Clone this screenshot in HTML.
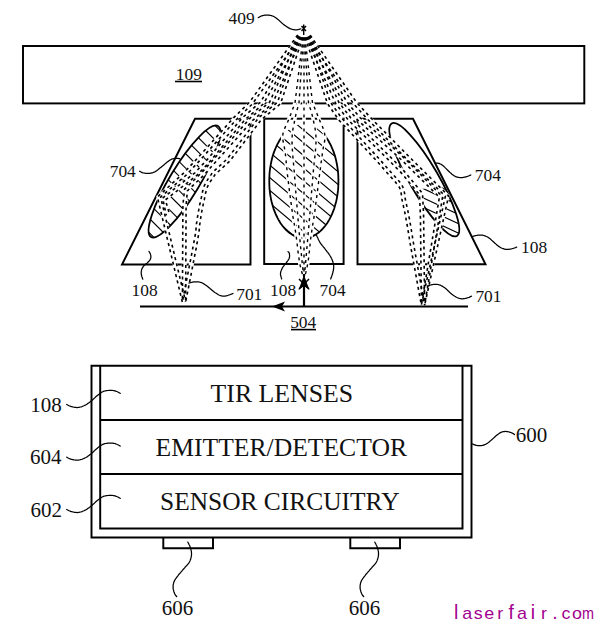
<!DOCTYPE html>
<html><head><meta charset="utf-8"><style>
html,body{margin:0;padding:0;background:#fff;}
body{width:600px;height:644px;overflow:hidden;}
svg{display:block;}
.ln{fill:none;stroke:#000;stroke-width:1.95;stroke-linejoin:miter;}
.el{fill:none;stroke:#000;stroke-width:1.8;}
.ht{fill:none;stroke:#000;stroke-width:1.15;}
.ry{fill:none;stroke:#000;stroke-dasharray:3.2 2.6;}
.ko{fill:none;stroke:#fff;stroke-linecap:butt;}
.ld{fill:none;stroke:#000;stroke-width:1.25;stroke-linecap:round;}
.t{font-family:"Liberation Serif",serif;fill:#111;}
.wm{font-family:"Liberation Sans",sans-serif;font-size:19.5px;fill:#a2008e;}
</style></head><body>
<svg width="600" height="644" viewBox="0 0 600 644">
<rect x="23" y="46" width="561.3" height="57.4" class="ln"/>
<path d="M195,118.7 L250.5,118.7 L250.5,264.5 L122,264.5 Z" class="ln"/>
<rect x="264.2" y="118.7" width="79.4" height="145.3" class="ln"/>
<path d="M357.5,118.7 L413,118.7 L485.5,264.2 L357.5,264.2 Z" class="ln"/>
<clipPath id="cl"><ellipse cx="184.5" cy="181.5" rx="64.8" ry="15" transform="rotate(-58.9 184.5 181.5)"/></clipPath>
<g clip-path="url(#cl)"><path d="M185.6,81.7 L284.3,180.4 M178.4,88.9 L277.1,187.6 M171.2,96.1 L269.9,194.8 M164.0,103.3 L262.7,202.0 M156.8,110.5 L255.5,209.2 M149.6,117.7 L248.3,216.4 M142.4,124.9 L241.1,223.6 M135.1,132.1 L233.9,230.9 M127.9,139.4 L226.6,238.1 M120.7,146.6 L219.4,245.3 M113.5,153.8 L212.2,252.5 M106.3,161.0 L205.0,259.7 M99.1,168.2 L197.8,266.9 M91.9,175.4 L190.6,274.1" class="ht"/></g>
<ellipse cx="184.5" cy="181.5" rx="64.8" ry="15" transform="rotate(-58.9 184.5 181.5)" class="el"/>
<clipPath id="cc"><ellipse cx="303.85" cy="181" rx="34.6" ry="57" transform="rotate(0 303.85 181)"/></clipPath>
<g clip-path="url(#cc)"><path d="M300.0,89.1 L395.0,168.8 M293.8,96.6 L388.8,176.3 M287.5,104.0 L382.5,183.7 M281.3,111.4 L376.3,191.1 M275.1,118.9 L370.0,198.6 M268.8,126.3 L363.8,206.0 M262.6,133.7 L357.6,213.4 M256.4,141.1 L351.3,220.9 M250.1,148.6 L345.1,228.3 M243.9,156.0 L338.9,235.7 M237.7,163.4 L332.6,243.1 M231.4,170.9 L326.4,250.6 M225.2,178.3 L320.2,258.0 M218.9,185.7 L313.9,265.4" class="ht"/></g>
<path d="M325.2,136.1 L326.3,137.6 L327.3,139.1 L328.4,140.8 L329.3,142.5 L330.3,144.2 L331.2,146.1 L332.0,148.0 L332.8,149.9 L333.6,151.9 L334.3,153.9 L335.0,156.0 L335.6,158.2 L336.1,160.4 L336.6,162.6 L337.0,164.8 L337.4,167.1 L337.7,169.4 L338.0,171.7 L338.2,174.0 L338.3,176.4 L338.4,178.7 L338.4,181.1 L338.4,183.4 L338.3,185.8 L338.2,188.1 L338.0,190.4 L337.7,192.8 L337.4,195.0 L337.0,197.3 L336.6,199.6 L336.1,201.8 L335.5,203.9 L334.9,206.1 L334.3,208.2 L333.6,210.2 L332.8,212.2 L332.0,214.2 L331.1,216.0 L330.2,217.9 L329.3,219.6 L328.3,221.3 L327.3,223.0 L326.2,224.5 L325.1,226.0 L323.9,227.4 L322.8,228.7 L321.5,230.0 L320.3,231.1 L319.0,232.2 L317.7,233.2 L316.4,234.1 L315.1,234.9 L313.7,235.6 L312.3,236.3 L310.9,236.8 L309.5,237.2 L308.1,237.6 L306.7,237.8 L305.3,238.0 L303.9,238.0 L302.4,238.0 L301.0,237.8 L299.6,237.6 L298.2,237.2 L296.8,236.8 L295.4,236.3 L294.0,235.6 L292.6,234.9 L291.3,234.1 L290.0,233.2 L288.7,232.2 L287.4,231.1 L286.2,230.0 L284.9,228.7 L283.8,227.4 L282.6,226.0 L281.5,224.5 L280.4,223.0 L279.4,221.3 L278.4,219.6 L277.5,217.9 L276.6,216.0 L275.7,214.2 L274.9,212.2 L274.1,210.2 L273.4,208.2 L272.8,206.1 L272.2,203.9 L271.6,201.8 L271.1,199.6 L270.7,197.3 L270.3,195.0 L270.0,192.8 L269.7,190.4 L269.5,188.1 L269.4,185.8 L269.3,183.4 L269.3,181.1 L269.3,178.7 L269.4,176.4 L269.5,174.0 L269.7,171.7 L270.0,169.4 L270.3,167.1 L270.7,164.8 L271.1,162.6 L271.6,160.4 L272.1,158.2 L272.7,156.0 L273.4,153.9 L274.1,151.9 L274.9,149.9 L275.7,148.0 L276.5,146.1 L277.4,144.2 L278.4,142.5 L279.3,140.8 L280.4,139.1 L281.4,137.6 L282.5,136.1" class="el"/>
<clipPath id="rlow"><path d="M380,196 L440,186 L480,186 L480,260 L380,260 Z"/></clipPath>
<clipPath id="cr"><ellipse cx="424.3" cy="179.7" rx="65" ry="14.5" transform="rotate(59.9 424.3 179.7)"/></clipPath>
<g clip-path="url(#cr)"><g clip-path="url(#rlow)"><path d="M393.2,80.8 L520.1,140.0 M389.6,88.5 L516.5,147.7 M386.0,96.2 L512.9,155.4 M382.4,103.9 L509.3,163.1 M378.8,111.6 L505.7,170.8 M375.2,119.3 L502.1,178.5 M371.6,127.0 L498.5,186.2 M368.0,134.7 L494.9,193.9 M364.5,142.4 L491.3,201.6 M360.9,150.1 L487.7,209.3 M357.3,157.8 L484.1,217.0 M353.7,165.5 L480.6,224.7 M350.1,173.2 L477.0,232.4 M346.5,180.9 L473.4,240.1 M342.9,188.6 L469.8,247.8 M339.3,196.3 L466.2,255.5 M335.7,204.0 L462.6,263.2 M332.1,211.7 L459.0,270.9" class="ht"/></g></g>
<ellipse cx="424.3" cy="179.7" rx="65" ry="14.5" transform="rotate(59.9 424.3 179.7)" class="el"/>
<path d="M300.5,33.9 L251.0,103.0 L235.0,118.7 L198.0,160.0 L185.0,174.0 L159.0,197.0 L184.0,302.0" class="ko" style="stroke-width:5.0"/>
<path d="M301.0,34.2 L262.0,103.0 L243.7,118.7 L209.0,160.0 L196.0,174.0 L164.0,199.0 L168.0,215.0" class="ko" style="stroke-width:5.0"/>
<path d="M301.6,34.5 L271.0,103.0 L252.0,118.7 L215.2,160.0 L203.3,173.3 L186.0,190.0 L184.5,205.0 L184.0,302.0" class="ko" style="stroke-width:5.0"/>
<path d="M302.1,34.7 L279.0,103.0 L260.0,118.7 L228.5,160.0 L214.0,173.3 L213.6,173.9 L213.1,174.7 L212.5,175.6 L211.8,176.5 L211.0,177.6 L210.2,178.8 L209.4,180.0 L208.6,181.2 L207.9,182.4 L207.2,183.7 L206.5,184.9 L206.0,186.0 L205.5,187.1 L205.1,188.3 L204.8,189.5 L204.5,190.6 L204.2,191.8 L203.9,193.0 L203.7,194.2 L203.4,195.4 L203.2,196.6 L203.0,197.8 L202.7,198.9 L202.5,200.0 L202.3,201.1 L202.0,202.1 L201.8,203.1 L201.6,204.1 L201.4,205.1 L201.2,206.1 L201.0,207.0 L200.8,208.0 L200.6,209.0 L200.4,210.0 L200.2,211.0 L200.0,212.0 L199.8,213.0 L199.6,214.1 L199.5,215.1 L199.3,216.2 L199.1,217.2 L199.0,218.3 L198.8,219.4 L198.6,220.5 L198.5,221.6 L198.3,222.7 L198.2,223.8 L198.0,225.0 L197.9,226.0 L197.8,226.8 L197.7,227.5 L197.7,228.1 L197.7,228.7 L197.6,229.4 L197.5,230.3 L197.4,231.4 L197.2,232.9 L196.9,234.8 L196.5,237.1 L196.0,240.0 L195.3,243.7 L194.4,248.3 L193.4,253.6 L192.3,259.5 L191.1,265.6 L189.9,271.9 L188.7,278.2 L187.5,284.2 L186.4,289.8 L185.4,294.7 L184.6,298.9 L184.0,302.0" class="ko" style="stroke-width:5.0"/>
<path d="M305.9,34.7 L329.0,103.0 L340.0,118.7 L378.0,160.0 L391.0,174.7 L391.5,175.3 L392.2,176.0 L393.0,176.9 L393.9,177.8 L394.8,178.9 L395.8,180.0 L396.8,181.1 L397.8,182.3 L398.8,183.5 L399.6,184.7 L400.4,185.9 L401.0,187.0 L401.5,188.1 L401.9,189.2 L402.2,190.4 L402.5,191.5 L402.7,192.7 L402.9,193.9 L403.1,195.1 L403.3,196.3 L403.4,197.5 L403.6,198.6 L403.8,199.8 L404.0,201.0 L404.2,202.2 L404.5,203.3 L404.8,204.4 L405.0,205.6 L405.2,206.7 L405.5,207.8 L405.8,209.0 L406.0,210.1 L406.2,211.3 L406.5,212.5 L406.8,213.7 L407.0,215.0 L407.2,216.3 L407.5,217.6 L407.8,219.0 L408.0,220.4 L408.2,221.8 L408.5,223.2 L408.8,224.7 L409.0,226.1 L409.2,227.6 L409.5,229.1 L409.8,230.5 L410.0,232.0 L410.2,233.3 L410.4,234.5 L410.6,235.6 L410.7,236.6 L410.9,237.6 L411.1,238.6 L411.3,239.8 L411.5,241.2 L411.8,242.9 L412.1,244.8 L412.5,247.2 L413.0,250.0 L413.6,253.5 L414.4,257.7 L415.2,262.4 L416.2,267.6 L417.2,273.1 L418.2,278.6 L419.2,284.1 L420.1,289.4 L421.0,294.2 L421.8,298.6 L422.5,302.2 L423.0,305.0" class="ko" style="stroke-width:5.0"/>
<path d="M306.5,34.5 L337.3,103.0 L349.3,118.7 L391.0,160.0 L402.7,172.0 L421.0,194.0 L422.0,215.0 L423.0,305.0" class="ko" style="stroke-width:5.0"/>
<path d="M306.9,34.2 L345.5,103.0 L358.7,118.7 L404.0,160.0 L441.0,197.0 L423.0,305.0" class="ko" style="stroke-width:5.0"/>
<path d="M307.4,33.9 L355.0,103.0 L369.3,118.7 L410.0,160.0 L447.0,196.0 L423.0,305.0" class="ko" style="stroke-width:5.0"/>
<path d="M303.3,35.0 L295.0,103.0 L294.7,103.8 L294.3,104.7 L293.9,105.8 L293.5,107.0 L292.9,108.4 L292.4,109.8 L291.8,111.3 L291.2,112.8 L290.7,114.4 L290.1,115.9 L289.5,117.3 L289.0,118.7 L288.5,120.0 L287.9,121.4 L287.3,122.7 L286.6,124.0 L286.0,125.4 L285.4,126.7 L284.8,128.1 L284.2,129.5 L283.8,130.8 L283.3,132.2 L283.0,133.6 L282.8,135.0 L282.7,136.4 L282.7,137.8 L282.8,139.2 L283.0,140.6 L283.2,142.0 L283.5,143.4 L283.8,144.8 L284.1,146.3 L284.4,147.7 L284.7,149.3 L285.0,150.9 L285.2,152.5 L285.4,154.2 L285.6,155.8 L285.7,157.5 L285.9,159.2 L286.1,160.9 L286.2,162.7 L286.4,164.5 L286.6,166.4 L286.8,168.4 L287.0,170.5 L287.2,172.7 L287.5,175.0 L287.8,177.5 L288.1,180.2 L288.5,183.1 L288.9,186.1 L289.2,189.2 L289.6,192.3 L290.0,195.5 L290.5,198.6 L290.9,201.7 L291.3,204.6 L291.6,207.4 L292.0,210.0 L292.4,212.4 L292.7,214.7 L293.0,216.9 L293.4,219.0 L293.7,221.0 L294.1,223.0 L294.4,224.9 L294.7,226.9 L295.0,228.8 L295.4,230.8 L295.7,232.9 L296.0,235.0 L296.3,237.2 L296.6,239.5 L296.9,241.8 L297.2,244.2 L297.4,246.6 L297.7,248.9 L298.0,251.3 L298.3,253.6 L298.6,255.8 L298.9,258.0 L299.2,260.1 L299.5,262.0 L299.9,263.9 L300.2,265.7 L300.7,267.6 L301.1,269.3 L301.5,271.0 L302.0,272.7 L302.4,274.2 L302.8,275.7 L303.2,277.0 L303.5,278.1 L303.8,279.2 L304.0,280.0" class="ko" style="stroke-width:3.6"/>
<path d="M304.7,35.0 L312.5,103.0 L312.8,103.8 L313.2,104.7 L313.7,105.8 L314.2,107.0 L314.8,108.4 L315.4,109.8 L316.0,111.3 L316.6,112.8 L317.3,114.4 L317.9,115.9 L318.5,117.3 L319.0,118.7 L319.5,120.0 L320.1,121.4 L320.7,122.7 L321.3,124.0 L321.9,125.4 L322.5,126.7 L323.0,128.1 L323.5,129.5 L323.9,130.8 L324.3,132.2 L324.6,133.6 L324.8,135.0 L324.9,136.4 L324.9,137.8 L324.8,139.2 L324.7,140.6 L324.5,142.0 L324.2,143.4 L323.9,144.8 L323.6,146.3 L323.3,147.7 L323.0,149.3 L322.7,150.9 L322.5,152.5 L322.3,154.2 L322.1,155.8 L321.8,157.5 L321.6,159.2 L321.4,160.9 L321.1,162.7 L320.9,164.5 L320.6,166.4 L320.4,168.4 L320.1,170.5 L319.8,172.7 L319.5,175.0 L319.2,177.5 L318.8,180.2 L318.5,183.1 L318.1,186.1 L317.7,189.2 L317.3,192.3 L316.9,195.5 L316.5,198.6 L316.1,201.7 L315.7,204.6 L315.4,207.4 L315.0,210.0 L314.7,212.4 L314.3,214.7 L314.0,216.9 L313.7,219.0 L313.3,221.0 L313.0,223.0 L312.7,224.9 L312.4,226.9 L312.1,228.8 L311.8,230.8 L311.5,232.9 L311.2,235.0 L310.9,237.2 L310.6,239.5 L310.4,241.8 L310.1,244.2 L309.9,246.6 L309.6,248.9 L309.4,251.3 L309.1,253.6 L308.8,255.8 L308.6,258.0 L308.3,260.1 L308.0,262.0 L307.7,263.9 L307.3,265.7 L307.0,267.6 L306.6,269.3 L306.2,271.0 L305.8,272.7 L305.4,274.2 L305.1,275.7 L304.7,277.0 L304.4,278.1 L304.2,279.2 L304.0,280.0" class="ko" style="stroke-width:3.6"/>
<path d="M303.6,35.0 L299.0,103.0 L298.8,103.7 L298.6,104.6 L298.3,105.7 L297.9,106.9 L297.6,108.1 L297.2,109.5 L296.8,111.0 L296.4,112.5 L296.0,114.0 L295.7,115.6 L295.3,117.1 L295.0,118.7 L294.7,120.2 L294.4,121.8 L294.1,123.3 L293.7,124.9 L293.4,126.5 L293.1,128.1 L292.8,129.9 L292.6,131.7 L292.3,133.6 L292.2,135.6 L292.1,137.7 L292.0,140.0 L292.0,142.4 L292.1,144.8 L292.2,147.3 L292.4,149.9 L292.6,152.6 L292.8,155.4 L293.0,158.3 L293.3,161.3 L293.6,164.5 L293.9,167.9 L294.2,171.3 L294.5,175.0 L294.8,178.9 L295.1,183.1 L295.5,187.5 L295.8,192.0 L296.2,196.8 L296.6,201.6 L297.0,206.4 L297.4,211.3 L297.8,216.1 L298.2,220.9 L298.6,225.5 L299.0,230.0 L299.4,234.5 L299.9,239.2 L300.3,244.0 L300.8,248.9 L301.3,253.7 L301.8,258.4 L302.2,263.0 L302.7,267.2 L303.1,271.1 L303.5,274.6 L303.8,277.6 L304.0,280.0" class="ko" style="stroke-width:3.6"/>
<path d="M304.4,35.0 L308.5,103.0 L308.7,103.7 L309.0,104.6 L309.3,105.7 L309.7,106.9 L310.1,108.1 L310.6,109.5 L311.0,111.0 L311.4,112.5 L311.9,114.0 L312.3,115.6 L312.7,117.1 L313.0,118.7 L313.3,120.2 L313.7,121.8 L314.0,123.3 L314.3,124.9 L314.7,126.5 L315.0,128.1 L315.3,129.9 L315.5,131.7 L315.7,133.6 L315.9,135.6 L316.0,137.7 L316.0,140.0 L316.0,142.4 L315.9,144.8 L315.7,147.3 L315.5,149.9 L315.3,152.6 L315.0,155.4 L314.7,158.3 L314.3,161.3 L314.0,164.5 L313.7,167.9 L313.3,171.3 L313.0,175.0 L312.7,178.9 L312.3,183.1 L312.0,187.5 L311.6,192.0 L311.2,196.8 L310.8,201.6 L310.5,206.4 L310.1,211.3 L309.7,216.1 L309.3,220.9 L308.9,225.5 L308.5,230.0 L308.1,234.5 L307.7,239.2 L307.3,244.0 L306.8,248.9 L306.4,253.7 L306.0,258.4 L305.6,263.0 L305.2,267.2 L304.8,271.1 L304.5,274.6 L304.2,277.6 L304.0,280.0" class="ko" style="stroke-width:3.6"/>
<path d="M304.0,35.0 L304.0,280.0" class="ko" style="stroke-width:3.6"/>
<path d="M300.4,36.9 L252.3,104.0 L236.2,119.8 L199.2,161.1 L186.1,175.2 L160.6,197.0 L185.6,301.6" class="ry" style="stroke-width:1.6;stroke-dasharray:3.0 3.4"/>
<path d="M297.7,34.9 L249.7,102.0 L233.8,117.6 L196.8,158.9 L183.9,172.8 L157.4,197.0 L182.4,302.4" class="ry" style="stroke-width:1.6;stroke-dasharray:3.0 3.4"/>
<path d="M301.2,37.2 L263.4,103.9 L244.9,119.8 L210.2,161.1 L197.1,175.2 L165.4,199.9 L169.6,214.6" class="ry" style="stroke-width:1.6;stroke-dasharray:3.0 3.4"/>
<path d="M298.4,35.6 L260.6,102.1 L242.5,117.6 L207.8,158.9 L194.9,172.8 L162.6,198.1 L166.4,215.4" class="ry" style="stroke-width:1.6;stroke-dasharray:3.0 3.4"/>
<path d="M302.0,37.4 L272.4,103.8 L253.2,119.9 L216.4,161.1 L204.5,174.5 L187.4,190.8 L186.1,205.0 L185.6,302.0" class="ry" style="stroke-width:1.6;stroke-dasharray:3.0 3.4"/>
<path d="M299.0,36.1 L269.6,102.2 L250.8,117.5 L214.0,158.9 L202.1,172.1 L184.6,189.2 L182.9,205.0 L182.4,302.0" class="ry" style="stroke-width:1.6;stroke-dasharray:3.0 3.4"/>
<path d="M302.8,37.6 L280.5,103.7 L261.2,119.8 L229.8,161.1 L215.1,174.5 L215.0,174.8 L214.4,175.6 L213.8,176.5 L213.1,177.5 L212.4,178.6 L211.6,179.7 L210.8,180.9 L210.0,182.1 L209.3,183.3 L208.6,184.5 L208.0,185.6 L207.5,186.7 L207.1,187.7 L206.7,188.8 L206.4,189.9 L206.1,191.1 L205.8,192.2 L205.5,193.4 L205.3,194.6 L205.0,195.7 L204.8,196.9 L204.6,198.1 L204.4,199.2 L204.1,200.4 L203.9,201.4 L203.6,202.5 L203.4,203.5 L203.2,204.5 L203.0,205.4 L202.8,206.4 L202.6,207.4 L202.4,208.3 L202.2,209.3 L202.0,210.3 L201.8,211.3 L201.6,212.3 L201.4,213.3 L201.3,214.4 L201.1,215.4 L200.9,216.4 L200.8,217.5 L200.6,218.6 L200.4,219.6 L200.3,220.7 L200.1,221.8 L200.0,222.9 L199.8,224.1 L199.6,225.2 L199.5,226.2 L199.4,227.0 L199.4,227.6 L199.4,228.2 L199.3,228.8 L199.3,229.6 L199.2,230.5 L199.0,231.7 L198.8,233.1 L198.5,235.0 L198.1,237.4 L197.6,240.3 L196.9,244.0 L196.1,248.6 L195.0,254.0 L193.9,259.8 L192.7,266.0 L191.5,272.3 L190.3,278.5 L189.1,284.5 L188.0,290.1 L187.0,295.0 L186.2,299.2 L185.6,302.3" class="ry" style="stroke-width:1.6;stroke-dasharray:3.0 3.4"/>
<path d="M299.7,36.5 L277.5,102.3 L258.8,117.6 L227.2,158.9 L212.9,172.1 L212.2,173.0 L211.7,173.7 L211.1,174.6 L210.4,175.6 L209.6,176.7 L208.9,177.9 L208.0,179.1 L207.2,180.3 L206.5,181.6 L205.7,182.9 L205.1,184.1 L204.5,185.3 L204.0,186.5 L203.6,187.8 L203.2,189.0 L202.9,190.2 L202.6,191.5 L202.3,192.7 L202.0,193.9 L201.8,195.1 L201.6,196.3 L201.4,197.4 L201.1,198.6 L200.9,199.6 L200.6,200.7 L200.4,201.7 L200.2,202.8 L200.0,203.8 L199.7,204.7 L199.5,205.7 L199.3,206.7 L199.1,207.7 L198.9,208.7 L198.8,209.7 L198.6,210.7 L198.4,211.7 L198.2,212.8 L198.0,213.8 L197.8,214.9 L197.7,215.9 L197.5,217.0 L197.3,218.1 L197.2,219.1 L197.0,220.2 L196.9,221.4 L196.7,222.5 L196.5,223.6 L196.4,224.8 L196.2,225.8 L196.1,226.7 L196.1,227.4 L196.1,228.0 L196.0,228.6 L196.0,229.3 L195.9,230.1 L195.8,231.2 L195.6,232.7 L195.3,234.5 L194.9,236.8 L194.4,239.7 L193.7,243.4 L192.8,248.0 L191.8,253.3 L190.7,259.2 L189.5,265.3 L188.3,271.6 L187.0,277.9 L185.9,283.9 L184.8,289.4 L183.8,294.4 L183.0,298.5 L182.4,301.7" class="ry" style="stroke-width:1.6;stroke-dasharray:3.0 3.4"/>
<path d="M308.3,36.5 L330.5,102.4 L341.3,117.6 L379.2,158.9 L392.2,173.6 L392.7,174.2 L393.4,174.9 L394.2,175.7 L395.1,176.7 L396.0,177.8 L397.0,178.9 L398.1,180.1 L399.1,181.3 L400.1,182.5 L401.0,183.8 L401.8,185.0 L402.5,186.3 L403.0,187.5 L403.5,188.7 L403.8,190.0 L404.1,191.2 L404.4,192.4 L404.6,193.6 L404.7,194.9 L404.9,196.1 L405.0,197.2 L405.2,198.4 L405.4,199.5 L405.6,200.7 L405.9,201.8 L406.1,202.9 L406.4,204.1 L406.6,205.2 L406.9,206.3 L407.1,207.5 L407.4,208.6 L407.6,209.8 L407.9,211.0 L408.1,212.2 L408.4,213.4 L408.6,214.7 L408.9,216.0 L409.1,217.3 L409.4,218.7 L409.6,220.1 L409.9,221.5 L410.1,223.0 L410.4,224.4 L410.6,225.9 L410.9,227.3 L411.1,228.8 L411.4,230.3 L411.6,231.7 L411.9,233.1 L412.0,234.3 L412.2,235.3 L412.4,236.3 L412.5,237.3 L412.7,238.4 L412.9,239.6 L413.1,241.0 L413.4,242.6 L413.7,244.6 L414.1,246.9 L414.6,249.7 L415.2,253.2 L416.0,257.4 L416.9,262.1 L417.8,267.3 L418.8,272.8 L419.8,278.3 L420.8,283.8 L421.8,289.1 L422.7,294.0 L423.5,298.3 L424.1,301.9 L424.6,304.7" class="ry" style="stroke-width:1.6;stroke-dasharray:3.0 3.4"/>
<path d="M305.2,37.6 L327.5,103.6 L338.7,119.8 L376.8,161.1 L389.8,175.8 L390.3,176.4 L391.0,177.1 L391.8,178.0 L392.6,178.9 L393.6,180.0 L394.6,181.1 L395.6,182.2 L396.5,183.4 L397.4,184.5 L398.3,185.6 L399.0,186.7 L399.5,187.7 L400.0,188.7 L400.3,189.8 L400.6,190.8 L400.9,191.9 L401.1,193.0 L401.3,194.1 L401.5,195.3 L401.6,196.5 L401.8,197.7 L401.9,198.9 L402.1,200.1 L402.4,201.3 L402.6,202.5 L402.9,203.7 L403.1,204.8 L403.4,205.9 L403.6,207.0 L403.9,208.2 L404.1,209.3 L404.4,210.5 L404.6,211.6 L404.9,212.8 L405.1,214.1 L405.4,215.3 L405.6,216.6 L405.9,217.9 L406.1,219.3 L406.4,220.7 L406.6,222.1 L406.9,223.5 L407.1,225.0 L407.4,226.4 L407.6,227.9 L407.9,229.4 L408.1,230.8 L408.4,232.3 L408.6,233.6 L408.8,234.8 L409.0,235.8 L409.1,236.8 L409.3,237.8 L409.4,238.9 L409.6,240.1 L409.9,241.5 L410.1,243.2 L410.5,245.1 L410.9,247.5 L411.4,250.3 L412.0,253.8 L412.8,258.0 L413.6,262.7 L414.6,267.9 L415.6,273.4 L416.6,278.9 L417.6,284.4 L418.5,289.7 L419.4,294.5 L420.2,298.9 L420.9,302.5 L421.4,305.3" class="ry" style="stroke-width:1.6;stroke-dasharray:3.0 3.4"/>
<path d="M309.0,36.1 L338.8,102.3 L350.5,117.6 L392.2,158.8 L403.9,170.9 L422.5,193.3 L423.6,215.0 L424.6,305.0" class="ry" style="stroke-width:1.6;stroke-dasharray:3.0 3.4"/>
<path d="M306.0,37.4 L335.8,103.7 L348.1,119.8 L389.8,161.2 L401.5,173.1 L419.5,194.7 L420.4,215.0 L421.4,305.0" class="ry" style="stroke-width:1.6;stroke-dasharray:3.0 3.4"/>
<path d="M309.6,35.6 L346.9,102.1 L359.9,117.5 L405.1,158.8 L442.6,196.8 L424.6,305.3" class="ry" style="stroke-width:1.6;stroke-dasharray:3.0 3.4"/>
<path d="M306.7,37.2 L344.1,103.9 L357.5,119.9 L402.9,161.2 L439.4,197.2 L421.4,304.7" class="ry" style="stroke-width:1.6;stroke-dasharray:3.0 3.4"/>
<path d="M310.2,35.1 L356.3,102.0 L370.5,117.6 L411.2,158.8 L448.6,195.9 L424.6,305.4" class="ry" style="stroke-width:1.6;stroke-dasharray:3.0 3.4"/>
<path d="M307.5,36.9 L353.7,104.0 L368.1,119.8 L408.8,161.2 L445.4,196.1 L421.4,304.6" class="ry" style="stroke-width:1.6;stroke-dasharray:3.0 3.4"/>
<path d="M303.0,37.4 L295.0,103.0 L294.7,103.8 L294.3,104.7 L293.9,105.8 L293.5,107.0 L292.9,108.4 L292.4,109.8 L291.8,111.3 L291.2,112.8 L290.7,114.4 L290.1,115.9 L289.5,117.3 L289.0,118.7 L288.5,120.0 L287.9,121.4 L287.3,122.7 L286.6,124.0 L286.0,125.4 L285.4,126.7 L284.8,128.1 L284.2,129.5 L283.8,130.8 L283.3,132.2 L283.0,133.6 L282.8,135.0 L282.7,136.4 L282.7,137.8 L282.8,139.2 L283.0,140.6 L283.2,142.0 L283.5,143.4 L283.8,144.8 L284.1,146.3 L284.4,147.7 L284.7,149.3 L285.0,150.9 L285.2,152.5 L285.4,154.2 L285.6,155.8 L285.7,157.5 L285.9,159.2 L286.1,160.9 L286.2,162.7 L286.4,164.5 L286.6,166.4 L286.8,168.4 L287.0,170.5 L287.2,172.7 L287.5,175.0 L287.8,177.5 L288.1,180.2 L288.5,183.1 L288.9,186.1 L289.2,189.2 L289.6,192.3 L290.0,195.5 L290.5,198.6 L290.9,201.7 L291.3,204.6 L291.6,207.4 L292.0,210.0 L292.4,212.4 L292.7,214.7 L293.0,216.9 L293.4,219.0 L293.7,221.0 L294.1,223.0 L294.4,224.9 L294.7,226.9 L295.0,228.8 L295.4,230.8 L295.7,232.9 L296.0,235.0 L296.3,237.2 L296.6,239.5 L296.9,241.8 L297.2,244.2 L297.4,246.6 L297.7,248.9 L298.0,251.3 L298.3,253.6 L298.6,255.8 L298.9,258.0 L299.2,260.1 L299.5,262.0 L299.9,263.9 L300.2,265.7 L300.7,267.6 L301.1,269.3 L301.5,271.0 L302.0,272.7 L302.4,274.2 L302.8,275.7 L303.2,277.0 L303.5,278.1 L303.8,279.2 L304.0,280.0" class="ry" style="stroke-width:1.4000000000000001;stroke-dasharray:3.0 4.0"/>
<path d="M305.0,37.4 L312.5,103.0 L312.8,103.8 L313.2,104.7 L313.7,105.8 L314.2,107.0 L314.8,108.4 L315.4,109.8 L316.0,111.3 L316.6,112.8 L317.3,114.4 L317.9,115.9 L318.5,117.3 L319.0,118.7 L319.5,120.0 L320.1,121.4 L320.7,122.7 L321.3,124.0 L321.9,125.4 L322.5,126.7 L323.0,128.1 L323.5,129.5 L323.9,130.8 L324.3,132.2 L324.6,133.6 L324.8,135.0 L324.9,136.4 L324.9,137.8 L324.8,139.2 L324.7,140.6 L324.5,142.0 L324.2,143.4 L323.9,144.8 L323.6,146.3 L323.3,147.7 L323.0,149.3 L322.7,150.9 L322.5,152.5 L322.3,154.2 L322.1,155.8 L321.8,157.5 L321.6,159.2 L321.4,160.9 L321.1,162.7 L320.9,164.5 L320.6,166.4 L320.4,168.4 L320.1,170.5 L319.8,172.7 L319.5,175.0 L319.2,177.5 L318.8,180.2 L318.5,183.1 L318.1,186.1 L317.7,189.2 L317.3,192.3 L316.9,195.5 L316.5,198.6 L316.1,201.7 L315.7,204.6 L315.4,207.4 L315.0,210.0 L314.7,212.4 L314.3,214.7 L314.0,216.9 L313.7,219.0 L313.3,221.0 L313.0,223.0 L312.7,224.9 L312.4,226.9 L312.1,228.8 L311.8,230.8 L311.5,232.9 L311.2,235.0 L310.9,237.2 L310.6,239.5 L310.4,241.8 L310.1,244.2 L309.9,246.6 L309.6,248.9 L309.4,251.3 L309.1,253.6 L308.8,255.8 L308.6,258.0 L308.3,260.1 L308.0,262.0 L307.7,263.9 L307.3,265.7 L307.0,267.6 L306.6,269.3 L306.2,271.0 L305.8,272.7 L305.4,274.2 L305.1,275.7 L304.7,277.0 L304.4,278.1 L304.2,279.2 L304.0,280.0" class="ry" style="stroke-width:1.4000000000000001;stroke-dasharray:3.0 4.0"/>
<path d="M303.4,37.5 L299.0,103.0 L298.8,103.7 L298.6,104.6 L298.3,105.7 L297.9,106.9 L297.6,108.1 L297.2,109.5 L296.8,111.0 L296.4,112.5 L296.0,114.0 L295.7,115.6 L295.3,117.1 L295.0,118.7 L294.7,120.2 L294.4,121.8 L294.1,123.3 L293.7,124.9 L293.4,126.5 L293.1,128.1 L292.8,129.9 L292.6,131.7 L292.3,133.6 L292.2,135.6 L292.1,137.7 L292.0,140.0 L292.0,142.4 L292.1,144.8 L292.2,147.3 L292.4,149.9 L292.6,152.6 L292.8,155.4 L293.0,158.3 L293.3,161.3 L293.6,164.5 L293.9,167.9 L294.2,171.3 L294.5,175.0 L294.8,178.9 L295.1,183.1 L295.5,187.5 L295.8,192.0 L296.2,196.8 L296.6,201.6 L297.0,206.4 L297.4,211.3 L297.8,216.1 L298.2,220.9 L298.6,225.5 L299.0,230.0 L299.4,234.5 L299.9,239.2 L300.3,244.0 L300.8,248.9 L301.3,253.7 L301.8,258.4 L302.2,263.0 L302.7,267.2 L303.1,271.1 L303.5,274.6 L303.8,277.6 L304.0,280.0" class="ry" style="stroke-width:1.4000000000000001;stroke-dasharray:3.0 4.0"/>
<path d="M304.5,37.5 L308.5,103.0 L308.7,103.7 L309.0,104.6 L309.3,105.7 L309.7,106.9 L310.1,108.1 L310.6,109.5 L311.0,111.0 L311.4,112.5 L311.9,114.0 L312.3,115.6 L312.7,117.1 L313.0,118.7 L313.3,120.2 L313.7,121.8 L314.0,123.3 L314.3,124.9 L314.7,126.5 L315.0,128.1 L315.3,129.9 L315.5,131.7 L315.7,133.6 L315.9,135.6 L316.0,137.7 L316.0,140.0 L316.0,142.4 L315.9,144.8 L315.7,147.3 L315.5,149.9 L315.3,152.6 L315.0,155.4 L314.7,158.3 L314.3,161.3 L314.0,164.5 L313.7,167.9 L313.3,171.3 L313.0,175.0 L312.7,178.9 L312.3,183.1 L312.0,187.5 L311.6,192.0 L311.2,196.8 L310.8,201.6 L310.5,206.4 L310.1,211.3 L309.7,216.1 L309.3,220.9 L308.9,225.5 L308.5,230.0 L308.1,234.5 L307.7,239.2 L307.3,244.0 L306.8,248.9 L306.4,253.7 L306.0,258.4 L305.6,263.0 L305.2,267.2 L304.8,271.1 L304.5,274.6 L304.2,277.6 L304.0,280.0" class="ry" style="stroke-width:1.4000000000000001;stroke-dasharray:3.0 4.0"/>
<path d="M304.0,37.5 L304.0,280.0" class="ry" style="stroke-width:1.4000000000000001;stroke-dasharray:3.0 4.0"/>
<path d="M301.5,26 L306,31 M306,26 L301.5,31 M303.7,24.5 L303.7,35" class="ln" style="stroke-width:1.4"/>
<path d="M140,306.5 L468,306.5" class="ln"/>
<path d="M272,306.5 L285,301.5 L282,306.5 L285,311.5 Z" fill="#000"/>
<path d="M304,280 L304,306" class="ln" style="stroke-width:2.2"/>
<path d="M304,275 L298.5,290 L304,286 L309.5,290 Z" fill="#000"/>
<path d="M299,279 L309,289 M309,279 L299,289" class="ln" style="stroke-width:1.5"/>
<path d="M258.3,17.6 L258.5,17.5 L258.8,17.4 L259.0,17.2 L259.4,17.0 L259.7,16.8 L260.1,16.6 L260.5,16.4 L260.9,16.2 L261.3,16.0 L261.7,15.9 L262.1,15.8 L262.5,15.7 L262.9,15.6 L263.2,15.5 L263.6,15.4 L264.1,15.3 L264.5,15.2 L264.9,15.2 L265.4,15.1 L265.8,15.1 L266.3,15.1 L266.8,15.1 L267.3,15.1 L267.8,15.1 L268.3,15.1 L268.8,15.2 L269.3,15.2 L269.8,15.3 L270.3,15.4 L270.8,15.5 L271.3,15.6 L271.7,15.7 L272.1,15.9 L272.5,16.0 L273.0,16.2 L273.4,16.3 L273.8,16.5 L274.2,16.7 L274.6,17.0 L275.0,17.2 L275.4,17.5 L275.8,17.8 L276.3,18.1 L276.7,18.4 L277.1,18.7 L277.5,19.1 L277.9,19.4 L278.4,19.8 L278.8,20.1 L279.2,20.5 L279.6,20.9 L280.0,21.2 L280.4,21.6 L280.8,22.0 L281.2,22.4 L281.7,22.8 L282.1,23.2 L282.5,23.5 L282.9,23.9 L283.3,24.2 L283.7,24.6 L284.1,24.9 L284.6,25.2 L285.0,25.5 L285.4,25.8 L285.8,26.1 L286.2,26.4 L286.7,26.7 L287.1,26.9 L287.5,27.2 L287.9,27.4 L288.3,27.7 L288.7,27.9 L289.1,28.2 L289.6,28.4 L290.0,28.6 L290.4,28.8 L290.8,29.0 L291.2,29.1 L291.7,29.2 L292.2,29.4 L292.7,29.5 L293.2,29.6 L293.7,29.7 L294.2,29.7 L294.7,29.8 L295.2,29.8 L295.7,29.8 L296.2,29.8 L296.7,29.8 L297.2,29.8 L297.6,29.7 L298.1,29.6 L298.6,29.5 L299.1,29.3 L299.5,29.2 L299.9,29.1 L300.3,29.0 L300.6,28.9 L300.8,28.8" class="ld"/>
<path d="M139.6,171.2 L139.8,171.3 L140.1,171.5 L140.3,171.6 L140.7,171.8 L141.0,172.0 L141.4,172.2 L141.9,172.4 L142.3,172.6 L142.8,172.8 L143.3,172.9 L143.9,173.0 L144.5,173.1 L145.1,173.2 L145.8,173.3 L146.5,173.3 L147.2,173.4 L148.0,173.4 L148.7,173.4 L149.4,173.4 L150.0,173.3 L150.6,173.2 L151.2,173.1 L151.8,172.9 L152.4,172.8 L153.0,172.6 L153.5,172.4 L154.1,172.1 L154.6,171.9 L155.2,171.6 L155.8,171.2 L156.4,170.9 L157.0,170.5 L157.6,170.1 L158.2,169.6 L158.8,169.1 L159.4,168.6 L160.0,168.1 L160.6,167.6 L161.1,167.2 L161.7,166.7 L162.2,166.3 L162.8,165.8 L163.3,165.4 L163.8,165.0 L164.3,164.5 L164.7,164.1 L165.2,163.7 L165.7,163.3 L166.2,162.9 L166.7,162.5 L167.2,162.1 L167.7,161.7 L168.2,161.4 L168.7,161.0 L169.2,160.6 L169.7,160.3 L170.2,160.0 L170.7,159.7 L171.2,159.4 L171.7,159.2 L172.2,159.0 L172.7,158.8 L173.3,158.7 L173.8,158.6 L174.3,158.5 L174.8,158.4 L175.3,158.4 L175.8,158.4 L176.3,158.3 L176.7,158.3 L177.1,158.3 L177.5,158.3 L177.9,158.4 L178.3,158.4 L178.7,158.5 L179.0,158.6 L179.3,158.6 L179.6,158.7 L179.8,158.8 L180.0,158.8" class="ld"/>
<path d="M435.0,162.9 L435.3,162.9 L435.7,163.0 L436.2,163.0 L436.7,163.1 L437.2,163.1 L437.8,163.2 L438.4,163.3 L439.0,163.4 L439.5,163.6 L440.0,163.8 L440.4,164.0 L440.9,164.2 L441.3,164.4 L441.7,164.7 L442.1,165.0 L442.5,165.3 L442.9,165.6 L443.3,165.9 L443.8,166.3 L444.2,166.7 L444.7,167.1 L445.1,167.6 L445.6,168.1 L446.1,168.6 L446.6,169.1 L447.2,169.7 L447.7,170.2 L448.2,170.7 L448.7,171.2 L449.2,171.7 L449.7,172.2 L450.2,172.6 L450.7,173.1 L451.2,173.5 L451.7,174.0 L452.2,174.4 L452.7,174.8 L453.2,175.1 L453.7,175.5 L454.2,175.8 L454.7,176.1 L455.2,176.3 L455.7,176.6 L456.2,176.8 L456.7,176.9 L457.1,177.1 L457.6,177.2 L458.1,177.3 L458.7,177.4 L459.2,177.5 L459.7,177.6 L460.3,177.6 L460.9,177.6 L461.5,177.6 L462.0,177.5 L462.6,177.5 L463.2,177.4 L463.8,177.3 L464.4,177.2 L465.0,177.1 L465.6,176.9 L466.3,176.8 L466.9,176.5 L467.6,176.3 L468.3,176.0 L468.9,175.8 L469.5,175.5 L470.0,175.3 L470.5,175.1 L470.8,175.0" class="ld"/>
<path d="M471.7,236.7 L472.0,236.6 L472.4,236.5 L472.8,236.4 L473.3,236.2 L473.8,236.1 L474.4,235.9 L475.0,235.8 L475.6,235.6 L476.1,235.5 L476.7,235.4 L477.2,235.3 L477.8,235.2 L478.4,235.2 L479.0,235.1 L479.5,235.1 L480.1,235.0 L480.7,235.0 L481.3,235.1 L481.9,235.1 L482.5,235.2 L483.1,235.3 L483.7,235.5 L484.2,235.6 L484.8,235.8 L485.4,236.0 L486.0,236.3 L486.6,236.5 L487.1,236.8 L487.7,237.1 L488.3,237.5 L488.9,237.9 L489.5,238.3 L490.1,238.8 L490.7,239.3 L491.3,239.9 L491.9,240.4 L492.5,241.0 L493.1,241.5 L493.6,242.0 L494.2,242.5 L494.7,243.0 L495.2,243.4 L495.7,243.9 L496.2,244.3 L496.7,244.8 L497.2,245.2 L497.7,245.6 L498.2,246.0 L498.7,246.4 L499.2,246.7 L499.7,247.0 L500.3,247.4 L500.9,247.7 L501.5,248.0 L502.0,248.2 L502.6,248.5 L503.2,248.7 L503.8,248.9 L504.4,249.1 L505.0,249.2 L505.6,249.3 L506.2,249.4 L506.7,249.4 L507.3,249.4 L507.9,249.4 L508.5,249.3 L509.1,249.3 L509.6,249.2 L510.2,249.1 L510.8,249.0 L511.4,248.9 L512.1,248.7 L512.7,248.5 L513.4,248.3 L514.1,248.0 L514.8,247.8 L515.4,247.6 L515.9,247.4 L516.3,247.2 L516.7,247.1" class="ld"/>
<path d="M142.8,279.2 L142.7,278.9 L142.6,278.5 L142.4,278.1 L142.2,277.5 L142.0,277.0 L141.8,276.4 L141.7,275.8 L141.5,275.3 L141.4,274.7 L141.3,274.2 L141.3,273.7 L141.2,273.2 L141.2,272.7 L141.2,272.3 L141.3,271.8 L141.3,271.3 L141.4,270.8 L141.5,270.4 L141.6,269.9 L141.7,269.5 L141.8,269.1 L142.0,268.7 L142.2,268.3 L142.4,267.9 L142.6,267.5 L142.9,267.1 L143.1,266.7 L143.4,266.3 L143.7,266.0 L144.0,265.6 L144.3,265.2 L144.7,264.9 L145.1,264.6 L145.5,264.3 L145.9,263.9 L146.3,263.6 L146.8,263.3 L147.2,263.0 L147.6,262.6 L147.9,262.3 L148.2,261.9 L148.6,261.6 L148.9,261.2 L149.2,260.9 L149.5,260.5 L149.8,260.1 L150.0,259.7 L150.3,259.4 L150.4,259.0 L150.6,258.6 L150.7,258.2 L150.8,257.8 L150.8,257.5 L150.9,257.1 L150.9,256.7 L150.8,256.3 L150.8,255.9 L150.7,255.5 L150.7,255.2 L150.6,254.8 L150.5,254.4 L150.4,254.0 L150.2,253.6 L150.0,253.2 L149.8,252.8 L149.6,252.4 L149.4,252.1 L149.2,251.8 L149.1,251.5 L149.0,251.3" class="ld"/>
<path d="M189.0,283.0 L189.4,282.9 L189.8,282.8 L190.4,282.7 L191.0,282.5 L191.6,282.4 L192.3,282.2 L193.0,282.1 L193.7,281.9 L194.4,281.8 L195.0,281.8 L195.6,281.8 L196.2,281.8 L196.8,281.8 L197.4,281.8 L198.0,281.9 L198.6,281.9 L199.2,282.0 L199.8,282.2 L200.4,282.3 L201.0,282.5 L201.6,282.7 L202.2,283.0 L202.8,283.3 L203.4,283.6 L204.0,284.0 L204.6,284.4 L205.2,284.8 L205.8,285.2 L206.4,285.6 L207.0,286.0 L207.6,286.4 L208.2,286.9 L208.8,287.4 L209.4,287.9 L210.0,288.5 L210.6,289.0 L211.2,289.5 L211.8,290.0 L212.4,290.5 L213.0,291.0 L213.6,291.5 L214.2,291.9 L214.8,292.4 L215.4,292.8 L216.1,293.2 L216.7,293.6 L217.3,294.0 L217.9,294.4 L218.4,294.7 L219.0,295.0 L219.5,295.2 L220.1,295.5 L220.6,295.6 L221.1,295.8 L221.6,295.9 L222.0,296.0 L222.5,296.1 L223.0,296.2 L223.5,296.2 L224.0,296.2 L224.5,296.2 L225.0,296.1 L225.5,296.0 L226.0,295.9 L226.6,295.8 L227.1,295.6 L227.6,295.5 L228.1,295.3 L228.5,295.1 L229.0,295.0 L229.5,294.9 L229.9,294.7 L230.4,294.5 L230.9,294.3 L231.3,294.2 L231.7,294.0 L232.1,293.8 L232.5,293.7 L232.8,293.6 L233.0,293.5" class="ld"/>
<path d="M281.7,279.0 L281.6,278.7 L281.5,278.2 L281.3,277.7 L281.1,277.1 L281.0,276.5 L280.8,275.8 L280.6,275.1 L280.5,274.5 L280.5,273.8 L280.5,273.2 L280.6,272.6 L280.7,272.0 L280.9,271.4 L281.1,270.8 L281.4,270.2 L281.6,269.6 L281.9,269.0 L282.2,268.4 L282.5,267.8 L282.8,267.3 L283.1,266.8 L283.4,266.3 L283.8,265.8 L284.1,265.4 L284.5,264.9 L284.9,264.5 L285.2,264.0 L285.6,263.6 L286.0,263.2 L286.3,262.7 L286.6,262.2 L287.0,261.8 L287.3,261.3 L287.7,260.8 L288.0,260.4 L288.3,259.9 L288.6,259.4 L288.9,258.9 L289.1,258.5 L289.3,258.0 L289.4,257.5 L289.5,257.0 L289.6,256.5 L289.6,256.0 L289.6,255.5 L289.5,255.0 L289.5,254.5 L289.4,254.0 L289.4,253.6 L289.3,253.3 L289.2,253.0 L289.1,252.7 L289.0,252.5 L288.8,252.3 L288.7,252.2 L288.5,252.0 L288.3,251.9 L288.2,251.8 L288.1,251.7 L288.0,251.6" class="ld"/>
<path d="M330.7,279.0 L330.8,278.6 L331.0,278.0 L331.3,277.4 L331.5,276.7 L331.8,275.9 L332.1,275.1 L332.4,274.3 L332.6,273.5 L332.8,272.7 L333.0,272.0 L333.1,271.3 L333.3,270.6 L333.4,269.9 L333.5,269.3 L333.6,268.6 L333.7,267.9 L333.7,267.2 L333.7,266.5 L333.7,265.7 L333.6,265.0 L333.5,264.2 L333.3,263.4 L333.1,262.6 L332.8,261.8 L332.6,261.0 L332.2,260.1 L331.9,259.3 L331.5,258.5 L331.1,257.6 L330.7,256.8 L330.2,256.0 L329.7,255.1 L329.1,254.3 L328.5,253.4 L327.9,252.6 L327.2,251.8 L326.6,251.0 L325.9,250.2 L325.4,249.4 L324.8,248.7 L324.3,248.0 L323.8,247.4 L323.3,246.8 L322.8,246.2 L322.3,245.6 L321.9,245.0 L321.4,244.5 L321.0,243.9 L320.6,243.4 L320.2,242.8 L319.8,242.2 L319.5,241.6 L319.2,240.9 L318.8,240.3 L318.5,239.7 L318.3,239.1 L318.0,238.5 L317.8,237.9 L317.5,237.4 L317.3,237.0 L317.1,236.6 L316.9,236.3 L316.8,236.0 L316.6,235.7 L316.5,235.5 L316.3,235.3 L316.2,235.1 L316.2,235.0 L316.1,234.8 L316.0,234.7" class="ld"/>
<path d="M428.0,286.0 L428.3,285.9 L428.7,285.8 L429.1,285.6 L429.6,285.4 L430.1,285.2 L430.7,285.0 L431.3,284.9 L431.9,284.7 L432.4,284.6 L433.0,284.5 L433.6,284.4 L434.1,284.4 L434.7,284.4 L435.3,284.4 L435.9,284.4 L436.6,284.4 L437.2,284.4 L437.8,284.5 L438.4,284.6 L439.0,284.8 L439.6,285.0 L440.2,285.2 L440.8,285.5 L441.4,285.8 L442.0,286.1 L442.6,286.4 L443.2,286.8 L443.8,287.2 L444.4,287.6 L445.0,288.0 L445.6,288.5 L446.2,289.0 L446.8,289.5 L447.4,290.1 L448.0,290.7 L448.6,291.3 L449.2,291.9 L449.8,292.5 L450.4,293.0 L451.0,293.5 L451.6,294.0 L452.2,294.4 L452.8,294.9 L453.4,295.3 L454.1,295.8 L454.7,296.2 L455.3,296.5 L455.9,296.9 L456.4,297.2 L457.0,297.5 L457.5,297.7 L458.1,298.0 L458.6,298.2 L459.1,298.3 L459.6,298.5 L460.0,298.6 L460.5,298.6 L461.0,298.7 L461.5,298.8 L462.0,298.8 L462.5,298.8 L463.0,298.8 L463.5,298.7 L464.0,298.7 L464.5,298.6 L465.0,298.5 L465.5,298.4 L466.0,298.3 L466.5,298.1 L467.0,298.0 L467.5,297.9 L468.0,297.7 L468.5,297.5 L469.1,297.3 L469.6,297.1 L470.0,296.8 L470.5,296.6 L470.9,296.5 L471.2,296.3 L471.5,296.2" class="ld"/>
<text x="228.49" y="24.13" class="t" style="font-size:17.4px">409</text>
<text x="175.79" y="79.63" class="t" style="font-size:17.4px">109</text>
<path d="M175,81.5 L202,81.5" class="ln" style="stroke-width:1.6"/>
<text x="109.71" y="177.13" class="t" style="font-size:17.4px">704</text>
<text x="474.86" y="181.13" class="t" style="font-size:17.4px">704</text>
<text x="521.02" y="253.13" class="t" style="font-size:17.4px">108</text>
<text x="131.57" y="296.13" class="t" style="font-size:17.4px">108</text>
<text x="236.20" y="300.13" class="t" style="font-size:17.4px">701</text>
<text x="270.12" y="295.63" class="t" style="font-size:17.4px">108</text>
<text x="319.51" y="295.63" class="t" style="font-size:17.4px">704</text>
<text x="475.40" y="302.13" class="t" style="font-size:17.4px">701</text>
<text x="290.18" y="328.13" class="t" style="font-size:17.4px">504</text>
<path d="M291,329.6 L316,329.6" class="ln" style="stroke-width:1.6"/>
<path d="M91.5,365.8 L471.5,365.8 L471.5,537.5 L91.5,537.5 Z" class="ln"/>
<path d="M100.2,365.8 L100.2,528.5 L462.5,528.5 L462.5,365.8" class="ln"/>
<path d="M100.2,419.9 L462.5,419.9 M100.2,474 L462.5,474" class="ln"/>
<path d="M163.3,537.5 L163.3,548.2 L213,548.2 L213,537.5" class="ln"/>
<path d="M350.3,537.5 L350.3,548.2 L400,548.2 L400,537.5" class="ln"/>
<text x="210.6" y="401.7" class="t" style="font-size:25.8px" textLength="142.5" lengthAdjust="spacingAndGlyphs">TIR LENSES</text>
<text x="155.5" y="456" class="t" style="font-size:25.3px" textLength="251.5" lengthAdjust="spacingAndGlyphs">EMITTER/DETECTOR</text>
<text x="160" y="509.8" class="t" style="font-size:25.3px" textLength="239.5" lengthAdjust="spacingAndGlyphs">SENSOR CIRCUITRY</text>
<text x="30.18" y="411.59" class="t" style="font-size:21px">108</text>
<text x="30.06" y="464.39" class="t" style="font-size:21px">604</text>
<text x="30.48" y="516.59" class="t" style="font-size:21px">602</text>
<text x="515.85" y="441.79" class="t" style="font-size:21px">600</text>
<text x="161.76" y="615.39" class="t" style="font-size:21px">606</text>
<text x="348.76" y="615.39" class="t" style="font-size:21px">606</text>
<path d="M66.7,404.5 L67.0,404.6 L67.3,404.8 L67.7,405.0 L68.1,405.3 L68.6,405.5 L69.1,405.8 L69.6,406.0 L70.2,406.2 L70.7,406.4 L71.3,406.6 L71.9,406.7 L72.5,406.9 L73.2,407.0 L73.9,407.2 L74.6,407.3 L75.4,407.4 L76.1,407.4 L76.9,407.5 L77.6,407.5 L78.3,407.4 L79.0,407.3 L79.7,407.2 L80.4,407.0 L81.2,406.8 L81.9,406.6 L82.6,406.3 L83.3,406.0 L84.0,405.7 L84.6,405.4 L85.3,405.1 L85.9,404.8 L86.6,404.4 L87.2,404.0 L87.7,403.6 L88.3,403.2 L88.9,402.8 L89.5,402.4 L90.0,401.9 L90.6,401.5 L91.2,401.0 L91.8,400.5 L92.4,400.0 L92.9,399.5 L93.5,398.9 L94.1,398.4 L94.7,397.9 L95.3,397.3 L95.8,396.8 L96.4,396.3 L97.0,395.8 L97.6,395.3 L98.1,394.9 L98.7,394.4 L99.3,394.0 L99.8,393.5 L100.4,393.1 L101.0,392.7 L101.6,392.3 L102.2,392.0 L102.8,391.7 L103.5,391.4 L104.1,391.2 L104.8,391.0 L105.6,390.8 L106.3,390.7 L107.0,390.6 L107.7,390.5 L108.5,390.4 L109.1,390.3 L109.8,390.3 L110.4,390.3 L111.1,390.3 L111.7,390.3 L112.3,390.4 L112.9,390.5 L113.5,390.6 L114.1,390.7 L114.6,390.8 L115.2,390.9 L115.7,391.1 L116.2,391.3 L116.8,391.5 L117.3,391.8 L117.9,392.0 L118.4,392.3 L118.9,392.6 L119.3,392.8 L119.7,393.1 L120.0,393.3 L120.3,393.4" class="ld"/>
<path d="M66.7,457.2 L67.0,457.3 L67.3,457.5 L67.7,457.7 L68.1,458.0 L68.6,458.2 L69.1,458.5 L69.6,458.7 L70.2,458.9 L70.7,459.1 L71.3,459.3 L71.9,459.4 L72.5,459.6 L73.2,459.7 L73.9,459.9 L74.6,460.0 L75.4,460.1 L76.1,460.1 L76.9,460.2 L77.6,460.2 L78.3,460.1 L79.0,460.0 L79.7,459.9 L80.4,459.7 L81.2,459.5 L81.9,459.3 L82.6,459.0 L83.3,458.7 L84.0,458.4 L84.6,458.1 L85.3,457.8 L85.9,457.5 L86.6,457.1 L87.2,456.7 L87.7,456.3 L88.3,455.9 L88.9,455.5 L89.5,455.1 L90.0,454.6 L90.6,454.2 L91.2,453.7 L91.8,453.2 L92.4,452.7 L92.9,452.2 L93.5,451.6 L94.1,451.0 L94.7,450.5 L95.3,449.9 L95.8,449.4 L96.4,448.9 L97.0,448.4 L97.6,447.9 L98.1,447.5 L98.7,447.0 L99.3,446.6 L99.8,446.2 L100.4,445.8 L101.0,445.4 L101.6,445.0 L102.2,444.7 L102.8,444.4 L103.5,444.1 L104.1,443.9 L104.8,443.7 L105.6,443.5 L106.3,443.4 L107.0,443.3 L107.7,443.2 L108.5,443.1 L109.1,443.0 L109.8,443.0 L110.4,443.0 L111.1,443.0 L111.7,443.0 L112.3,443.1 L112.9,443.2 L113.5,443.3 L114.1,443.4 L114.6,443.5 L115.2,443.6 L115.7,443.8 L116.2,444.0 L116.8,444.2 L117.3,444.5 L117.9,444.7 L118.4,445.0 L118.9,445.3 L119.3,445.5 L119.7,445.8 L120.0,446.0 L120.3,446.1" class="ld"/>
<path d="M66.7,509.5 L67.0,509.6 L67.3,509.8 L67.7,510.0 L68.1,510.3 L68.6,510.5 L69.1,510.8 L69.6,511.0 L70.2,511.2 L70.7,511.4 L71.3,511.6 L71.9,511.7 L72.5,511.9 L73.2,512.0 L73.9,512.2 L74.6,512.3 L75.4,512.4 L76.1,512.4 L76.9,512.5 L77.6,512.5 L78.3,512.4 L79.0,512.3 L79.7,512.2 L80.4,512.0 L81.2,511.8 L81.9,511.6 L82.6,511.3 L83.3,511.0 L84.0,510.7 L84.6,510.4 L85.3,510.1 L85.9,509.8 L86.6,509.4 L87.2,509.0 L87.7,508.6 L88.3,508.2 L88.9,507.8 L89.5,507.4 L90.0,506.9 L90.6,506.5 L91.2,506.0 L91.8,505.5 L92.4,505.0 L92.9,504.5 L93.5,503.9 L94.1,503.4 L94.7,502.9 L95.3,502.3 L95.8,501.8 L96.4,501.3 L97.0,500.8 L97.6,500.3 L98.1,499.9 L98.7,499.4 L99.3,499.0 L99.8,498.5 L100.4,498.1 L101.0,497.7 L101.6,497.3 L102.2,497.0 L102.8,496.7 L103.5,496.4 L104.1,496.2 L104.8,496.0 L105.6,495.8 L106.3,495.7 L107.0,495.6 L107.7,495.5 L108.5,495.4 L109.1,495.3 L109.8,495.3 L110.4,495.3 L111.1,495.3 L111.7,495.3 L112.3,495.4 L112.9,495.5 L113.5,495.6 L114.1,495.7 L114.6,495.8 L115.2,495.9 L115.7,496.1 L116.2,496.3 L116.8,496.5 L117.3,496.8 L117.9,497.0 L118.4,497.3 L118.9,497.6 L119.3,497.8 L119.7,498.1 L120.0,498.3 L120.3,498.4" class="ld"/>
<path d="M472.5,444.0 L472.8,444.1 L473.1,444.2 L473.5,444.4 L474.0,444.6 L474.4,444.8 L474.9,444.9 L475.5,445.1 L476.0,445.3 L476.5,445.4 L477.0,445.5 L477.5,445.6 L478.0,445.6 L478.5,445.7 L479.0,445.7 L479.5,445.7 L480.0,445.7 L480.5,445.7 L481.0,445.7 L481.5,445.6 L482.0,445.5 L482.5,445.4 L483.0,445.3 L483.5,445.1 L484.0,444.9 L484.5,444.8 L485.0,444.5 L485.5,444.3 L486.0,444.1 L486.5,443.8 L487.0,443.5 L487.5,443.2 L488.0,442.8 L488.5,442.5 L489.0,442.1 L489.5,441.7 L490.0,441.2 L490.5,440.8 L491.0,440.4 L491.5,439.9 L492.0,439.5 L492.5,439.1 L493.0,438.6 L493.5,438.1 L494.0,437.7 L494.5,437.2 L495.0,436.7 L495.5,436.3 L496.0,435.8 L496.5,435.4 L497.0,435.0 L497.5,434.6 L498.0,434.3 L498.5,433.9 L499.0,433.6 L499.5,433.2 L500.0,432.9 L500.5,432.7 L501.0,432.4 L501.5,432.2 L502.0,432.0 L502.5,431.8 L503.0,431.7 L503.5,431.6 L504.0,431.5 L504.5,431.5 L505.0,431.4 L505.5,431.4 L506.0,431.4 L506.5,431.5 L507.0,431.5 L507.5,431.6 L508.0,431.7 L508.6,431.8 L509.1,432.0 L509.7,432.1 L510.2,432.3 L510.7,432.5 L511.2,432.7 L511.6,432.8 L512.0,433.0 L512.4,433.2 L512.7,433.3 L513.0,433.5 L513.3,433.7 L513.6,433.8 L513.8,434.0 L514.0,434.2 L514.2,434.3 L514.4,434.4 L514.5,434.5" class="ld"/>
<path d="M187.8,542.1 L187.9,542.3 L188.1,542.6 L188.3,543.0 L188.5,543.4 L188.7,543.8 L188.9,544.2 L189.2,544.7 L189.4,545.2 L189.6,545.6 L189.8,546.1 L190.0,546.6 L190.2,547.1 L190.3,547.6 L190.5,548.1 L190.7,548.6 L190.8,549.1 L191.0,549.6 L191.1,550.2 L191.2,550.7 L191.3,551.2 L191.4,551.7 L191.4,552.2 L191.5,552.7 L191.5,553.2 L191.5,553.6 L191.5,554.1 L191.5,554.6 L191.5,555.1 L191.4,555.7 L191.3,556.2 L191.2,556.8 L191.1,557.4 L190.9,558.0 L190.8,558.6 L190.6,559.2 L190.4,559.8 L190.2,560.4 L189.9,561.1 L189.6,561.7 L189.3,562.3 L188.9,562.9 L188.5,563.5 L188.0,564.1 L187.5,564.7 L187.0,565.2 L186.5,565.8 L185.9,566.4 L185.3,567.0 L184.8,567.7 L184.2,568.3 L183.6,569.0 L183.0,569.7 L182.4,570.4 L181.8,571.1 L181.1,571.8 L180.5,572.6 L179.9,573.3 L179.3,574.0 L178.7,574.7 L178.2,575.4 L177.7,576.1 L177.2,576.7 L176.7,577.3 L176.3,577.9 L175.8,578.5 L175.4,579.1 L175.0,579.7 L174.7,580.3 L174.4,580.9 L174.1,581.5 L173.9,582.1 L173.7,582.7 L173.5,583.3 L173.4,583.9 L173.2,584.5 L173.2,585.1 L173.1,585.7 L173.1,586.3 L173.1,586.9 L173.1,587.5 L173.1,588.1 L173.2,588.8 L173.3,589.4 L173.5,590.1 L173.7,590.7 L173.8,591.4 L174.0,592.0 L174.2,592.6 L174.4,593.1 L174.6,593.6 L174.8,594.0 L175.0,594.4 L175.3,594.8 L175.5,595.2 L175.7,595.5 L176.0,595.8 L176.2,596.0 L176.4,596.2 L176.6,596.4 L176.7,596.6" class="ld"/>
<path d="M374.8,542.1 L374.9,542.3 L375.1,542.6 L375.3,543.0 L375.5,543.4 L375.7,543.8 L375.9,544.2 L376.2,544.7 L376.4,545.2 L376.6,545.6 L376.8,546.1 L377.0,546.6 L377.2,547.1 L377.3,547.6 L377.5,548.1 L377.7,548.6 L377.8,549.1 L378.0,549.6 L378.1,550.2 L378.2,550.7 L378.3,551.2 L378.4,551.7 L378.4,552.2 L378.5,552.7 L378.5,553.2 L378.5,553.6 L378.5,554.1 L378.5,554.6 L378.5,555.1 L378.4,555.7 L378.3,556.2 L378.2,556.8 L378.1,557.4 L377.9,558.0 L377.8,558.6 L377.6,559.2 L377.4,559.8 L377.2,560.4 L376.9,561.1 L376.6,561.7 L376.3,562.3 L375.9,562.9 L375.5,563.5 L375.0,564.1 L374.5,564.7 L374.0,565.2 L373.5,565.8 L372.9,566.4 L372.3,567.0 L371.8,567.7 L371.2,568.3 L370.6,569.0 L370.0,569.7 L369.4,570.4 L368.8,571.1 L368.1,571.8 L367.5,572.6 L366.9,573.3 L366.3,574.0 L365.7,574.7 L365.2,575.4 L364.7,576.1 L364.2,576.7 L363.7,577.3 L363.3,577.9 L362.8,578.5 L362.4,579.1 L362.0,579.7 L361.7,580.3 L361.4,580.9 L361.1,581.5 L360.9,582.1 L360.7,582.7 L360.5,583.3 L360.4,583.9 L360.3,584.5 L360.2,585.1 L360.1,585.7 L360.1,586.3 L360.1,586.9 L360.1,587.5 L360.1,588.1 L360.2,588.8 L360.3,589.4 L360.5,590.1 L360.7,590.7 L360.8,591.4 L361.0,592.0 L361.2,592.6 L361.4,593.1 L361.6,593.6 L361.8,594.0 L362.0,594.4 L362.3,594.8 L362.5,595.2 L362.7,595.5 L363.0,595.8 L363.2,596.0 L363.4,596.2 L363.6,596.4 L363.7,596.6" class="ld"/>
<text x="0" y="0" class="wm" text-anchor="middle" transform="translate(456.25,618.6) scale(1.0,1.0)">l</text>
<text x="0" y="0" class="wm" text-anchor="middle" transform="translate(467.22,618.6) scale(0.92,0.88)">a</text>
<text x="0" y="0" class="wm" text-anchor="middle" transform="translate(478.19,618.6) scale(0.92,0.88)">s</text>
<text x="0" y="0" class="wm" text-anchor="middle" transform="translate(489.16,618.6) scale(0.92,0.88)">e</text>
<text x="0" y="0" class="wm" text-anchor="middle" transform="translate(500.13,618.6) scale(0.92,0.88)">r</text>
<text x="0" y="0" class="wm" text-anchor="middle" transform="translate(511.10,618.6) scale(1.0,1.0)">f</text>
<text x="0" y="0" class="wm" text-anchor="middle" transform="translate(522.07,618.6) scale(0.92,0.88)">a</text>
<text x="0" y="0" class="wm" text-anchor="middle" transform="translate(533.04,618.6) scale(1.0,1.0)">i</text>
<text x="0" y="0" class="wm" text-anchor="middle" transform="translate(544.01,618.6) scale(0.92,0.88)">r</text>
<text x="0" y="0" class="wm" text-anchor="middle" transform="translate(554.98,618.6) scale(1.0,1.0)">.</text>
<text x="0" y="0" class="wm" text-anchor="middle" transform="translate(565.95,618.6) scale(0.92,0.88)">c</text>
<text x="0" y="0" class="wm" text-anchor="middle" transform="translate(576.92,618.6) scale(0.92,0.88)">o</text>
<text x="0" y="0" class="wm" text-anchor="middle" transform="translate(587.89,618.6) scale(0.74,0.88)">m</text>
</svg>
</body></html>
